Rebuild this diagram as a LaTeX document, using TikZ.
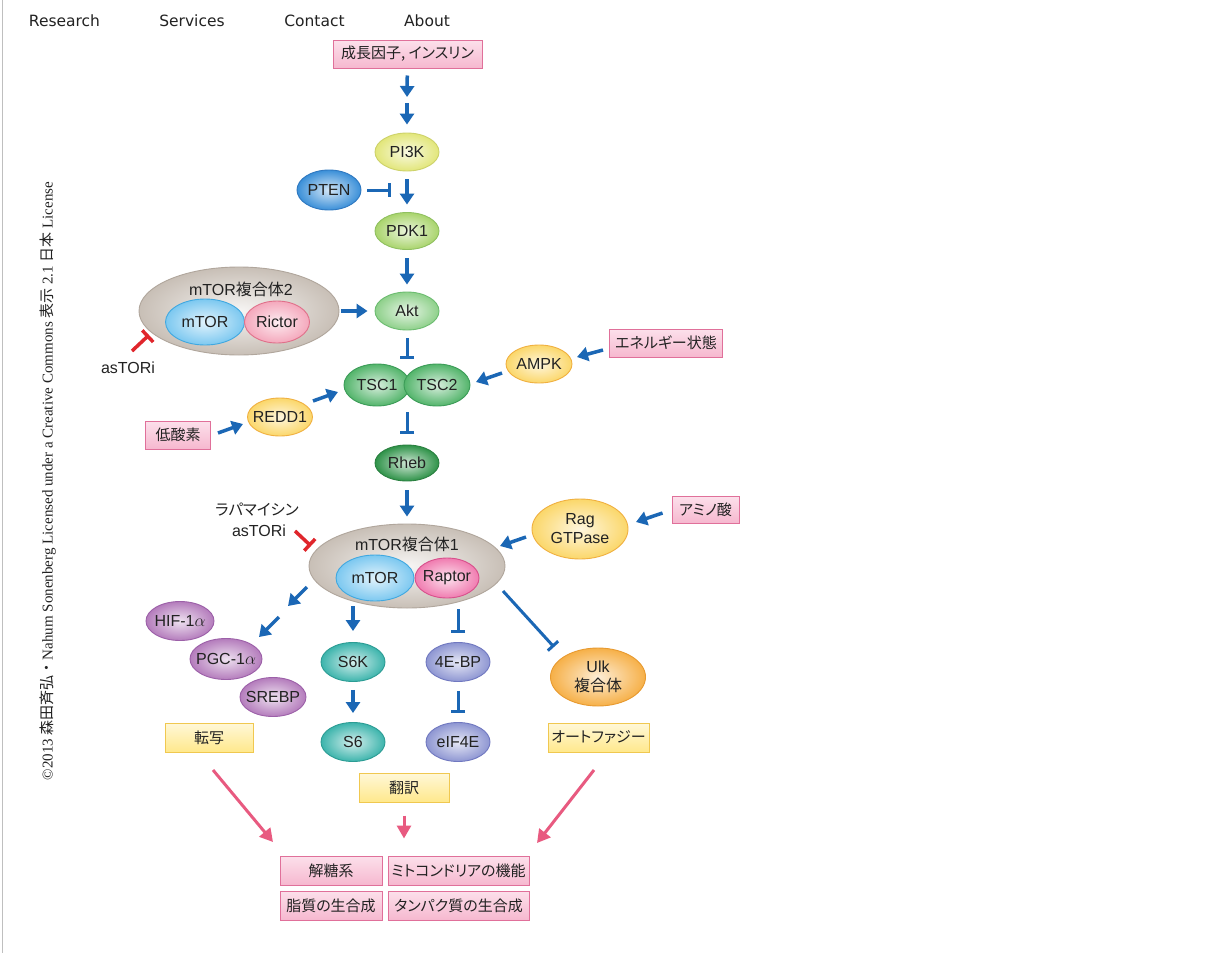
\documentclass[tikz,border=0pt]{standalone}
\usepackage{fontspec}
\setmainfont{Liberation Serif}
\newfontfamily\jp{Noto Sans CJK JP}
\newfontfamily\jpp[RawFeature=+palt]{Noto Sans CJK JP}
\newfontfamily\lat{Liberation Sans}
\newfontfamily\navfont{DejaVu Sans}
\usetikzlibrary{shapes.geometric,arrows.meta,calc}
\definecolor{txt}{HTML}{222222}
\definecolor{arrblue}{HTML}{1B67B5}
\definecolor{inhred}{HTML}{E0262C}
\definecolor{parrow}{HTML}{E85A80}
\definecolor{pinkline}{HTML}{E0709A}
\definecolor{pinktop}{HTML}{FCE0EB}
\definecolor{pinkbot}{HTML}{F6B8CF}
\definecolor{yline}{HTML}{F0C850}
\definecolor{ytop}{HTML}{FFF8D8}
\definecolor{ybot}{HTML}{FFE88C}
\definecolor{cPI}{HTML}{E2E67A}\definecolor{bPI}{HTML}{CDD26A}
\definecolor{cPT}{HTML}{3A8FD8}\definecolor{bPT}{HTML}{2F78C0}
\definecolor{cPD}{HTML}{A9D46C}\definecolor{bPD}{HTML}{90C060}
\definecolor{cAK}{HTML}{8ED08A}\definecolor{bAK}{HTML}{6CBC70}
\definecolor{cTS}{HTML}{52B46A}\definecolor{bTS}{HTML}{3C9C58}
\definecolor{cRH}{HTML}{2E9248}\definecolor{bRH}{HTML}{2A8040}
\definecolor{cYE}{HTML}{FBD76A}\definecolor{bYE}{HTML}{F0B040}
\definecolor{cGR}{HTML}{C8BFB6}\definecolor{bGR}{HTML}{B0A69C}
\definecolor{cMT}{HTML}{7CC8F0}\definecolor{bMT}{HTML}{40A8E0}
\definecolor{cRI}{HTML}{F4A8BC}\definecolor{bRI}{HTML}{E0708A}
\definecolor{cRA}{HTML}{F07CB0}\definecolor{bRA}{HTML}{D8508C}
\definecolor{cPU}{HTML}{B47CBC}\definecolor{bPU}{HTML}{9C60A8}
\definecolor{cTE}{HTML}{3CB4AC}\definecolor{bTE}{HTML}{2C9C94}
\definecolor{cLA}{HTML}{8E96D2}\definecolor{bLA}{HTML}{7078C0}
\definecolor{cOR}{HTML}{F6B048}\definecolor{bOR}{HTML}{E89A30}
\begin{document}
\begin{tikzpicture}[x=1pt,y=-1pt,
  lbl/.style={font=\lat\fontsize{16}{18}\selectfont, text=txt, align=center},
  oval/.style 2 args={ellipse, inner xsep=-12pt, inner ysep=-6pt, line width=0.9pt, draw=#2,
    inner color=#1!22!white, outer color=#1, lbl},
  pbox/.style={rectangle, draw=pinkline, line width=1pt, top color=pinktop,
    bottom color=pinkbot, text=txt, font=\jpp\fontsize{15}{17}\selectfont, inner sep=0pt},
  ybox/.style={rectangle, draw=yline, line width=1pt, top color=ytop,
    bottom color=ybot, text=txt, font=\jpp\fontsize{15}{17}\selectfont, inner sep=0pt},
  act/.style={draw=arrblue, line width=3.5pt, -{Triangle[width=14pt,length=11pt]}},
  inh/.style={draw=arrblue, line width=3pt, -{Bar[width=14pt]}},
  rinh/.style={draw=inhred, line width=3.5pt, -{Bar[width=16pt]}},
  parr/.style={draw=parrow, line width=3pt, -{Triangle[width=14pt,length=13pt]}},
  nav/.style={font=\navfont\fontsize{15.5}{17}\selectfont, text=txt}
]
\useasboundingbox (0,0) rectangle (1226,953);
\fill[white] (0,0) rectangle (1226,953);
\draw[gray!50, line width=1pt] (2.5,0) -- (2.5,953);

% navigation
\node[nav] (n1) at (64.5,21) {Research};
\node[nav] (n2) at (192,21) {Services};
\node[nav] (n3) at (314.5,21) {Contact};
\node[nav] (n4) at (427,21) {About};

% license
\node[rotate=90, font=\fontsize{15}{17}\selectfont, text=txt] (lic) at (48,481)
  {©2013 {\jp 森田斉弘・}Nahum Sonenberg Licensed under a Creative Commons {\jp 表示} 2.1 {\jp 日本} License};

% top chain
\node[pbox, minimum width=149pt, minimum height=28pt] (growth) at (407.5,54) {成長因子, インスリン};
\coordinate (mid) at (407,100);
\node[oval={cPI}{bPI}, minimum width=64pt, minimum height=38pt] (pi3k) at (407,152) {PI3K};
\node[oval={cPT}{bPT}, minimum width=64pt, minimum height=40pt] (pten) at (329,190) {PTEN};
\coordinate (ptenT) at (391,190);
\node[oval={cPD}{bPD}, minimum width=64pt, minimum height=37pt] (pdk1) at (407,231) {PDK1};
\node[oval={cAK}{bAK}, minimum width=64pt, minimum height=38pt] (akt) at (407,311) {Akt};

% mTOR complex 2
\node[oval={cGR}{bGR}, minimum width=200pt, minimum height=88pt, inner color=cGR!15!white] (mtorc2) at (239,311) {};
\node[lbl] (mc2lbl) at (241,289) {mTOR{\jpp 複合体}2};
\node[oval={cMT}{bMT}, minimum width=79pt, minimum height=46pt] (mtor2) at (205,322) {mTOR};
\node[oval={cRI}{bRI}, minimum width=65pt, minimum height=42pt] (rictor) at (277,322) {Rictor};
\node[lbl] (astori1) at (128,368) {asTORi};

% TSC
\node[oval={cTS}{bTS}, minimum width=66pt, minimum height=42pt] (tsc1) at (377,385) {TSC1};
\node[oval={cTS}{bTS}, minimum width=66pt, minimum height=42pt] (tsc2) at (437,385) {TSC2};
\coordinate (tsc) at (407,385);
\node[oval={cYE}{bYE}, minimum width=66pt, minimum height=38pt] (ampk) at (539,364) {AMPK};
\node[pbox, minimum width=113pt, minimum height=28pt] (energy) at (666,343) {エネルギー状態};
\node[oval={cYE}{bYE}, minimum width=65pt, minimum height=38pt] (redd1) at (280,417) {REDD1};
\node[pbox, minimum width=65pt, minimum height=28pt] (hypoxia) at (178,435) {低酸素};
\node[oval={cRH}{bRH}, minimum width=64pt, minimum height=36pt] (rheb) at (407,463) {Rheb};

% mTOR complex 1
\node[oval={cGR}{bGR}, minimum width=196pt, minimum height=84pt, inner color=cGR!15!white] (mtorc1) at (407,566) {};
\node[lbl] (mc1lbl) at (407,544) {mTOR{\jpp 複合体}1};
\node[oval={cMT}{bMT}, minimum width=78pt, minimum height=46pt] (mtor1) at (375,578) {mTOR};
\node[oval={cRA}{bRA}, minimum width=64pt, minimum height=40pt] (raptor) at (447,578) {Raptor};
\node[lbl, font=\jpp\fontsize{15.5}{17}\selectfont] (rapa) at (257,510) {ラパマイシン};
\node[lbl] (astori2) at (259,531) {asTORi};
\node[oval={cYE}{bYE}, minimum width=96pt, minimum height=60pt, font=\lat\fontsize{16}{19}\selectfont] (rag) at (580,529) {Rag\\GTPase};
\node[pbox, minimum width=67pt, minimum height=27pt] (amino) at (705.5,509.5) {アミノ酸};

% downstream
\node[oval={cPU}{bPU}, minimum width=68pt, minimum height=39pt] (hif) at (180,621) {HIF-1$\alpha$};
\node[oval={cPU}{bPU}, minimum width=72pt, minimum height=41pt] (pgc) at (226,659) {PGC-1$\alpha$};
\node[oval={cPU}{bPU}, minimum width=66pt, minimum height=39pt] (srebp) at (273,697) {SREBP};
\node[ybox, minimum width=88pt, minimum height=29pt] (tensha) at (209,737.5) {転写};
\node[oval={cTE}{bTE}, minimum width=64pt, minimum height=39pt] (s6k) at (353,662) {S6K};
\node[oval={cTE}{bTE}, minimum width=64pt, minimum height=39pt] (s6) at (353,742) {S6};
\node[oval={cLA}{bLA}, minimum width=64pt, minimum height=39pt] (ebp) at (458,662) {4E-BP};
\node[oval={cLA}{bLA}, minimum width=64pt, minimum height=39pt] (eif) at (458,742) {eIF4E};
\node[oval={cOR}{bOR}, minimum width=95pt, minimum height=58pt, font=\lat\fontsize{16}{19}\selectfont] (ulk) at (598,677) {Ulk\\{\jpp 複合体}};
\node[ybox, minimum width=101pt, minimum height=29pt] (auto) at (598.5,737.5) {オートファジー};
\node[ybox, minimum width=90pt, minimum height=29pt] (trans) at (404,787.5) {翻訳};

% outputs
\node[pbox, minimum width=102pt, minimum height=29pt] (glyco) at (331,870.5) {解糖系};
\node[pbox, minimum width=141pt, minimum height=29pt] (mito) at (458.5,870.5) {ミトコンドリアの機能};
\node[pbox, minimum width=102pt, minimum height=29pt] (lipid) at (331,905.5) {脂質の生合成};
\node[pbox, minimum width=141pt, minimum height=29pt] (prot) at (458.5,905.5) {タンパク質の生合成};

% connectors
\draw[act, shorten <=7pt, shorten >=3pt] (growth) -- (mid);
\draw[act, shorten <=3pt, shorten >=8pt] (mid) -- (pi3k);
\draw[inh, shorten <=6pt] (pten) -- (ptenT);
\draw[act, shorten <=8pt, shorten >=7.5pt] (pi3k) -- (pdk1);
\draw[act, shorten <=8.5pt, shorten >=7pt] (pdk1) -- (akt);
\draw[act, shorten <=2pt, shorten >=7pt] (mtorc2) -- (akt);
\draw[rinh] ($(mtorc2)+(-107,40)$) -- ($(mtorc2)+(-90,24)$);
\draw[inh, shorten <=8pt, shorten >=26pt] (akt) -- (tsc);
\draw[act] ($(ampk)+(-37,9)$) -- ($(tsc2)+(39,-3)$);
\draw[act] ($(energy)+(-63,7)$) -- ($(ampk)+(38,-7)$);
\draw[act] ($(hypoxia)+(40,-2)$) -- ($(redd1)+(-37,7)$);
\draw[act] ($(redd1)+(33,-16)$) -- ($(tsc1)+(-39,7)$);
\draw[inh, shorten <=27pt, shorten >=11pt] (tsc) -- (rheb);
\draw[act, shorten <=9pt, shorten >=7pt] (rheb) -- (mtorc1);
\draw[rinh] ($(mtorc1)+(-112,-35)$) -- ($(mtorc1)+(-96,-20)$);
\draw[act] ($(amino)+(-43,3.5)$) -- ($(rag)+(56,-7)$);
\draw[act] ($(rag)+(-54,8)$) -- ($(mtorc1)+(93,-20)$);
\draw[act] ($(mtorc1)+(-100,21)$) -- ($(mtorc1)+(-119,40)$);
\draw[act] ($(pgc)+(53,-42)$) -- ($(pgc)+(33,-22)$);
\draw[act, shorten >=11pt] ($(s6k)+(0,-56)$) -- (s6k);
\draw[inh, shorten >=9pt] ($(ebp)+(0,-53)$) -- (ebp);
\draw[act, shorten <=8pt, shorten >=9pt] (s6k) -- (s6);
\draw[inh, shorten <=9pt, shorten >=9pt] (ebp) -- (eif);
\draw[inh] ($(mtorc1)+(96,25)$) -- ($(ulk)+(-44,-30)$);
\draw[parr] ($(tensha)+(4,32.5)$) -- ($(glyco)+(-58,-28.5)$);
\draw[parr] ($(trans.south)+(0,13)$) -- ($(trans.south)+(0,36)$);
\draw[parr] ($(auto)+(-4.5,32.5)$) -- ($(mito)+(78.5,-27.5)$);
\end{tikzpicture}
\end{document}
